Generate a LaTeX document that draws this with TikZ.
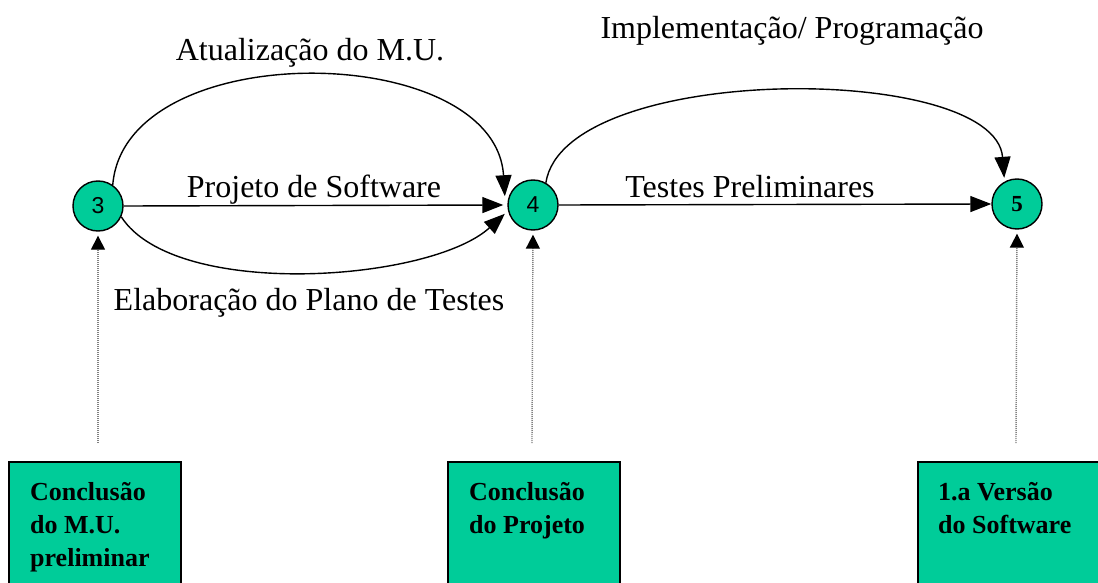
\documentclass[tikz,border=0pt]{standalone}
\usepackage{fontspec}
\setmainfont{Liberation Serif}
\newfontfamily\numsans{Liberation Sans}
\usetikzlibrary{arrows.meta}
\definecolor{mint}{RGB}{0,204,153}
\begin{document}
\begin{tikzpicture}[x=1pt,y=1pt,
  event/.style={circle,draw=black,line width=1.4pt,fill=mint,minimum size=50pt,inner sep=0pt},
  milestone/.style={rectangle,draw=black,line width=2.2pt,fill=mint,anchor=north west,
    minimum width=172pt,minimum height=170pt,inner sep=0pt},
  mtext/.style={anchor=north west,align=left,inner sep=0pt,
    font=\fontsize{26}{33}\selectfont\bfseries},
  task/.style={line width=1.4pt,-{Triangle[length=21pt,width=16pt]}},
  link/.style={draw=gray,line width=1.4pt,dash pattern=on 1pt off 1pt,
    -{Triangle[length=14pt,width=14pt,fill=black,color=black]},shorten >=4pt},
  tlabel/.style={anchor=base,inner sep=0pt,font=\fontsize{32}{36}\selectfont}]
\useasboundingbox (0,0) rectangle (1098,-583);
\clip (0,0) rectangle (1098,-583);

% events
\node[event,font=\numsans\fontsize{23}{24}\selectfont] (c3) at (98,-206) {3};
\node[event,font=\numsans\fontsize{23}{24}\selectfont] (c4) at (533,-205) {4};
\node[event,font=\bfseries\fontsize{23}{24}\selectfont] (c5) at (1017,-204) {5};

% milestones
\node[milestone] (b1) at (8,-461) {};
\node[milestone] (b2) at (447,-461) {};
\node[milestone,minimum width=200pt] (b3) at (917,-461) {};
\node[mtext] (t1) at ([xshift=22pt,yshift=-21pt]b1.north west) {Conclusão\\do M.U.\\preliminar};
\node[mtext] (t2) at ([xshift=22pt,yshift=-21pt]b2.north west) {Conclusão\\do Projeto};
\node[mtext] (t3) at ([xshift=21pt,yshift=-21pt]b3.north west) {1.a Versão\\do Software};

\coordinate (d1) at (98,-443);
\coordinate (d2) at (532,-443);
\coordinate (d3) at (1016,-443);
\draw[link] (d1) -- (c3.south);
\draw[link] (d2) -- (c4.south);
\draw[link] (d3) -- (c5.south);

% tasks between 3 and 4
\draw[task] (c3.55) .. controls (125,-35) and (495,-40) .. ([xshift=-4pt]c4.160);
\draw[task] (c3.east) -- ([xshift=-4pt]c4.west);
\draw[task] (c3.-25) .. controls (175,-300) and (430,-282) .. ([xshift=-4pt]c4.200);

% tasks between 4 and 5
\draw[task] (c4.60) .. controls (565,-62) and (995,-62) .. ([xshift=-4pt,yshift=2pt]c5.110);
\draw[task] (c4.east) -- (c5.west);

% task labels
\node[tlabel] (l1) at (310,-61) {Atualização do M.U.};
\node[tlabel] (l2) at (314,-197) {Projeto de Software};
\node[tlabel] (l3) at (309,-310) {Elaboração do Plano de Testes};
\node[tlabel] (l4) at (792,-39) {Implementação/ Programação};
\node[tlabel] (l5) at (750,-197) {Testes Preliminares};
\end{tikzpicture}
\end{document}
